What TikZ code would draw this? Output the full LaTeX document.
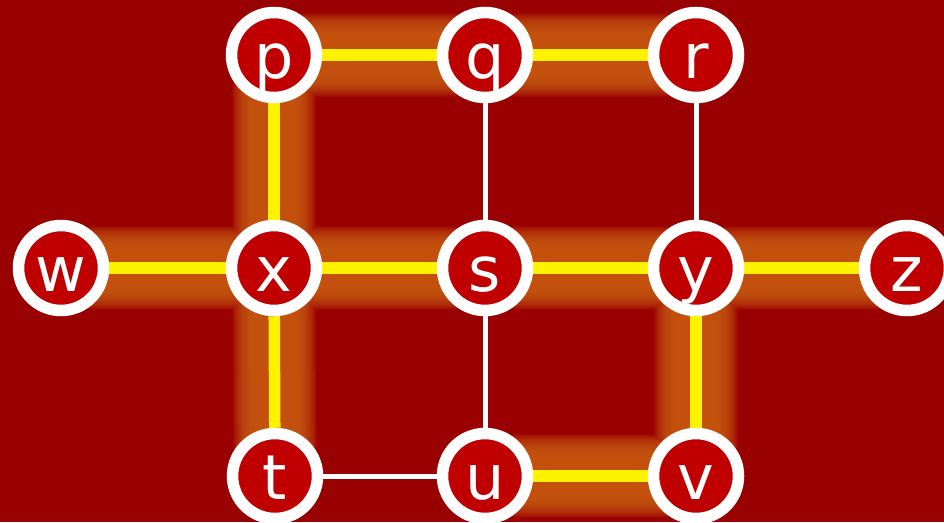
\documentclass[tikz,border=0pt]{standalone}
\usepackage{fontspec}
\setmainfont{DejaVu Sans}
\pgfdeclarelayer{bg}
\pgfdeclarelayer{edges}
\pgfsetlayers{bg,edges,main}
\definecolor{bgred}{HTML}{990000}
\definecolor{nodered}{HTML}{C00000}
\definecolor{glowc}{HTML}{CC6016}
\tikzset{
  vert/.style={circle, draw=white, fill=nodered, line width=11.5pt, minimum size=85pt,
    inner sep=0pt, text=white, font=\fontsize{62}{62}\selectfont,
    text height=46pt, text depth=0pt},
  hot/.style={draw=yellow, line width=11.5pt},
  cold/.style={draw=white, line width=5pt},
  glowline/.style={glowc, shorten <=-20pt, shorten >=-20pt},
}
\begin{document}
\begin{tikzpicture}[x=1pt,y=-1pt]
\useasboundingbox (0,0) rectangle (944,522);
\node[vert] (p) at (274,55) {p};
\node[vert] (q) at (485,55) {q};
\node[vert] (r) at (696,55) {r};
\node[vert] (w) at (61,268) {w};
\node[vert] (x) at (274,268) {x};
\node[vert] (s) at (485,268) {s};
\node[vert] (y) at (696,268) {y};
\node[vert] (z) at (907,268) {z};
\node[vert] (t) at (275,476) {t};
\node[vert] (u) at (485,476) {u};
\node[vert] (v) at (696,476) {v};
\begin{pgfonlayer}{bg}
\fill[bgred] (0,0) rectangle (944,522);
\foreach \glw in {44,46,...,84} {
  \begin{scope}[transparency group, opacity=0.1]
  \foreach \ga/\gb in {p/q,q/r,p/x,w/x,x/s,s/y,y/z,x/t,y/v,u/v}
    \draw[glowline, line width=\glw pt] (\ga) -- (\gb);
  \end{scope}
}
\end{pgfonlayer}
\begin{pgfonlayer}{edges}
\draw[hot] (p) -- (q);
\draw[hot] (q) -- (r);
\draw[hot] (p) -- (x);
\draw[hot] (w) -- (x);
\draw[hot] (x) -- (s);
\draw[hot] (s) -- (y);
\draw[hot] (y) -- (z);
\draw[hot] (x) -- (t);
\draw[hot] (y) -- (v);
\draw[hot] (u) -- (v);
\draw[cold] (q) -- (s);
\draw[cold] (r) -- (y);
\draw[cold] (s) -- (u);
\draw[cold] (t) -- (u);
\end{pgfonlayer}
\end{tikzpicture}
\end{document}
